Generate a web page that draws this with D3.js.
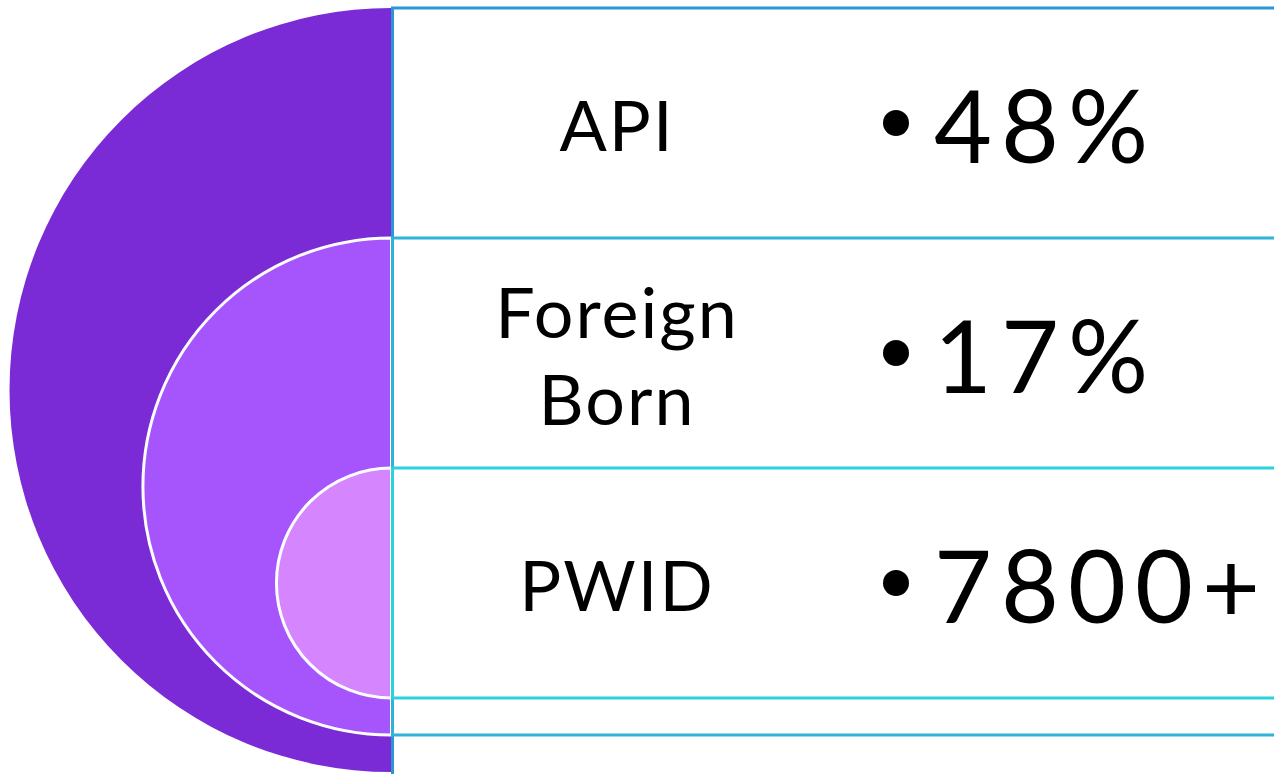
<!DOCTYPE html>
<html>
<head>
<meta charset="utf-8">
<script src="https://cdn.jsdelivr.net/npm/d3@7"></script>
<style>
  html, body { margin: 0; padding: 0; background: #ffffff; }
  svg { display: block; }
</style>
</head>
<body>
<svg id="chart" width="1274" height="774"></svg>
<script>
const categories = ["API", "Foreign Born", "PWID"];
const values = ["48%", "17%", "7800+"];
const ringFills = ["#7A2BD6", "#A655FC", "#D586FF"];
const ringLines = ["#2A96D4", "#2FB4D7", "#2AD2DD"];

const W = 1274, H = 774;
const svg = d3.select("#chart");
const edgeX = 392.5;
const bottomGap = 37;

const y = d3.scaleBand().domain(categories).range([8, 698]).paddingInner(0).paddingOuter(0);
const rangeEnd = y.range()[1];

const rings = categories.map((c, i) => {
  const top = y(c);
  const bottom = rangeEnd + (categories.length - 1 - i) * bottomGap;
  return { cat: c, i, top, bottom, r: (bottom - top) / 2, cy: (top + bottom) / 2 };
});

const arc = d3.arc().innerRadius(0).startAngle(Math.PI).endAngle(2 * Math.PI);

// half disks
svg.append("g").selectAll("path").data(rings).join("path")
  .attr("transform", d => `translate(${edgeX - 1},${d.cy})`)
  .attr("d", d => arc.outerRadius(d.r)())
  .attr("fill", (d, i) => ringFills[i])
  .attr("stroke", (d, i) => i === 0 ? "none" : "#ffffff")
  .attr("stroke-width", 3);

// bracket rectangles (left, top, bottom edges); outer box bottom falls below the canvas
svg.append("g").selectAll("path").data(rings).join("path")
  .attr("d", d => {
    const b = d.i === 0 ? H + 2 : d.bottom;
    return `M${W + 5},${d.top}H${edgeX}V${b}H${W + 5}`;
  })
  .attr("fill", "none")
  .attr("stroke", (d, i) => ringLines[i])
  .attr("stroke-width", 3);

// category labels
const labelX = 617;
const lab = svg.append("g").selectAll("text").data(rings).join("text")
  .attr("x", labelX)
  .attr("text-anchor", "middle")
  .attr("font-family", "Lato, 'Open Sans', sans-serif")
  .attr("font-size", 70)
  .attr("letter-spacing", 2)
  .attr("fill", "#000");
lab.each(function(d) {
  const words = d.cat.split(" ");
  const lh = 87;
  const mid = y(d.cat) + y.bandwidth() / 2;
  const first = mid + 28 - (words.length - 1) * lh / 2;
  d3.select(this).selectAll("tspan").data(words).join("tspan")
    .attr("x", labelX)
    .attr("y", (w, k) => first + k * lh)
    .text(w => w);
});

// values with bullets
const vg = svg.append("g").selectAll("g").data(rings).join("g")
  .attr("transform", d => `translate(0,${y(d.cat) + y.bandwidth() / 2})`);
vg.append("circle").attr("cx", 896).attr("cy", 0).attr("r", 13).attr("fill", "#000");
vg.append("text")
  .attr("x", 934).attr("y", 40)
  .attr("font-family", "Lato, 'Open Sans', sans-serif")
  .attr("font-size", 100)
  .attr("letter-spacing", 9)
  .attr("fill", "#000")
  .text((d, i) => values[i]);
</script>
</body>
</html>
